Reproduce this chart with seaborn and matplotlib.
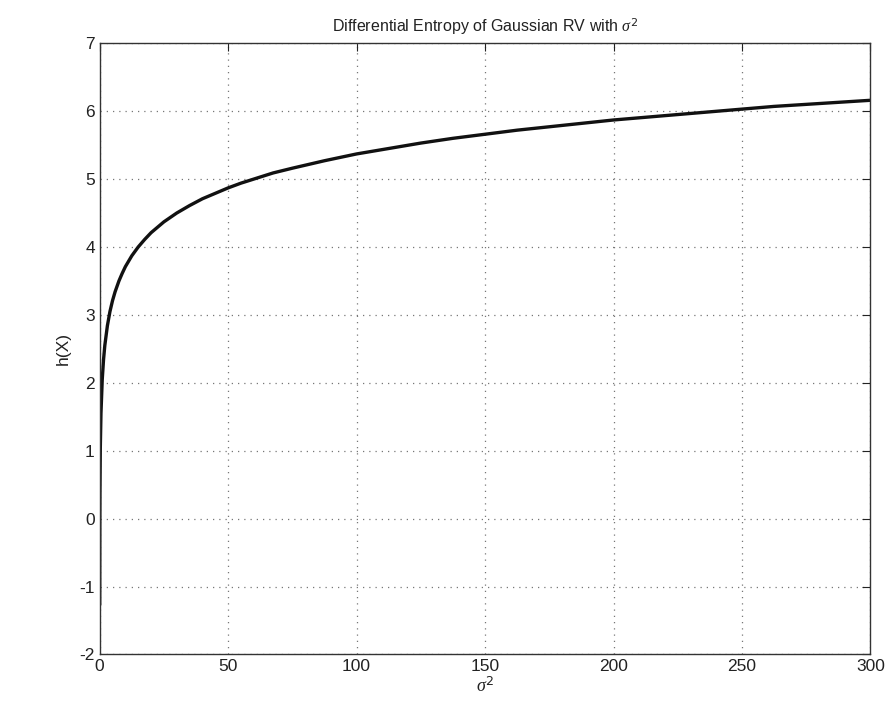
import matplotlib
matplotlib.use('Agg')
import matplotlib.pyplot as plt
import seaborn as sns
import pandas as pd

# values
sigma2 = [0.01, 0.05, 0.1, 0.25, 0.5, 1, 1.5, 2, 3, 4, 5, 6, 7.5, 8.75, 10, 12.5, 15, 17.5,
          20, 25, 30, 35, 40, 45, 50, 55, 60, 67.5, 75, 87.5, 100, 112.5, 125, 137.5, 150,
          162.5, 175, 187.5, 200, 212.5, 225, 237.5, 250, 262.5, 275, 287.5, 300]
entropy = [-1.27, -0.11, 0.39, 1.05, 1.55, 2.05, 2.34, 2.55, 2.84, 3.05, 3.21, 3.34, 3.50,
           3.61, 3.71, 3.87, 4.00, 4.11, 4.21, 4.37, 4.50, 4.61, 4.71, 4.79, 4.87, 4.94,
           5.00, 5.09, 5.16, 5.27, 5.37, 5.45, 5.53, 5.60, 5.66, 5.72, 5.77, 5.82, 5.87,
           5.91, 5.95, 5.99, 6.03, 6.07, 6.10, 6.13, 6.16]
xticks = [0, 50, 100, 150, 200, 250, 300]
yticks = [-2, -1, 0, 1, 2, 3, 4, 5, 6, 7]

df = pd.DataFrame({'sigma2': sigma2, 'h': entropy})

sns.set_style('white')
plt.rcParams['font.family'] = ['Liberation Sans', 'DejaVu Sans']
plt.rcParams['axes.unicode_minus'] = False
plt.rcParams['mathtext.fontset'] = 'custom'
plt.rcParams['mathtext.it'] = 'Liberation Serif:italic'

fig = plt.figure(figsize=(8.9, 7.09), dpi=100)
ax = fig.add_axes([0.112, 0.077, 0.866, 0.862])

sns.lineplot(data=df, x='sigma2', y='h', ax=ax, color='#111111', linewidth=2.4)

ax.set_xlim(0, 300)
ax.set_ylim(-2, 7)
ax.set_xticks(xticks)
ax.set_yticks(yticks)
ax.grid(True, linestyle=(0, (1, 4)), color='#777777', linewidth=0.9)
ax.tick_params(direction='in', length=6, width=0.8, labelsize=12.5, colors='#222222',
               top=True, right=True)
for s in ax.spines.values():
    s.set_visible(True)
    s.set_color('#333333')
    s.set_linewidth(1.0)

ax.set_title(r'Differential Entropy of Gaussian RV with $\sigma^2$', fontsize=11.5,
             color='#222222', pad=8)
ax.set_xlabel(r'$\sigma^2$', fontsize=13, color='#222222', labelpad=2)
ax.set_ylabel('h(X)', fontsize=12.5, color='#222222', labelpad=6)

fig.savefig('out.png', dpi=100, facecolor='white')
